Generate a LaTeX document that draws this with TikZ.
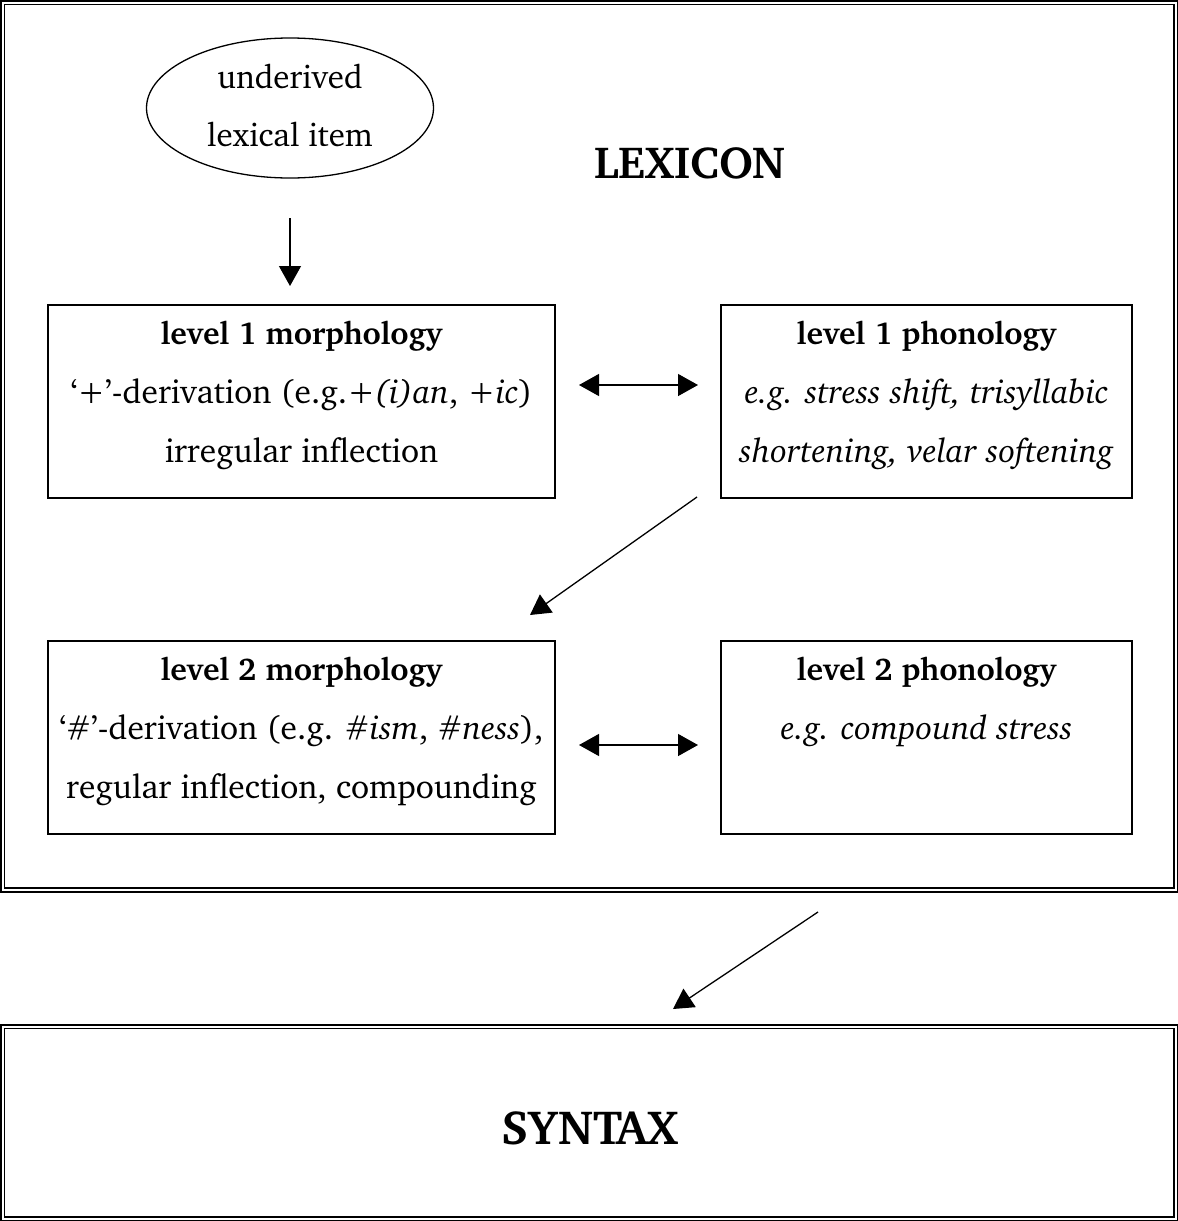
\documentclass[tikz,border=0pt]{standalone}
\usepackage[T1]{fontenc}
\usepackage{charter}
\usetikzlibrary{shapes.geometric,arrows.meta}
\newcommand{\ttl}[1]{{\fontsize{31.5}{59}\selectfont\bfseries #1}}
\begin{document}
\begin{tikzpicture}[x=1pt,y=-1pt,
  txt/.style={font=\fontsize{33.5}{59}\selectfont, align=center, inner sep=0pt},
  box/.style={draw, line width=1.3pt, minimum width=#1, minimum height=193pt, inner sep=0pt},
  arr/.style={line width=1.3pt, -{Triangle[length=20pt,width=22pt]}},
  darr/.style={line width=1.3pt, {Triangle[length=20pt,width=22pt]}-{Triangle[length=20pt,width=22pt]}},
  frame/.style={double, double distance=2pt, line width=1.6pt}]
\useasboundingbox (0,0) rectangle (1178,1221);
% frames
\draw[frame] (2.5,2.5) rectangle (1175.5,890);
\draw[frame] (2.5,1026.5) rectangle (1175.5,1218.5);
% ellipse
\node[draw, ellipse, line width=1.3pt, minimum width=287pt, minimum height=140pt, inner sep=0pt] (item) at (290,108) {};
\node[txt, font=\fontsize{33}{58}\selectfont] (itemt) at (290,106) {underived\\lexical item};
\node[txt, font=\fontsize{45}{50}\selectfont\bfseries] (lex) at (690,163) {LEXICON};
% boxes
\node[box=507pt] (m1) at (301.5,401.5) {};
\node[box=411pt] (p1) at (926.5,401.5) {};
\node[box=507pt] (m2) at (301.5,737.5) {};
\node[box=411pt] (p2) at (926.5,737.5) {};
\node[txt, anchor=north] (m1t) at (301.5,321) {\ttl{level 1 morphology}\\`+'-derivation (e.g.\textit{+(i)an}, \textit{+ic})\\irregular inflection};
\node[txt, anchor=north] (p1t) at (926.5,321) {\ttl{level 1 phonology}\\\textit{e.g. stress shift, trisyllabic}\\\textit{shortening, velar softening}};
\node[txt, anchor=north] (m2t) at (301.5,657) {\ttl{level 2 morphology}\\`\#'-derivation (e.g. \#\textit{ism}, \#\textit{ness}),\\regular inflection, compounding};
\node[txt, anchor=north] (p2t) at (926.5,657) {\ttl{level 2 phonology}\\\textit{e.g. compound stress}};
% syntax
\node[txt, font=\fontsize{48}{50}\selectfont\bfseries] (syn) at (590,1128) {SYNTAX};
% arrows
\coordinate (a1s) at (290,218);
\coordinate (a1e) at (290,286);
\draw[arr] (a1s) -- (a1e);
\coordinate (d1s) at (579,385);
\coordinate (d1e) at (698,385);
\draw[darr] (d1s) -- (d1e);
\coordinate (d2s) at (579,745);
\coordinate (d2e) at (698,745);
\draw[darr] (d2s) -- (d2e);
\coordinate (g1s) at (697,497);
\coordinate (g1e) at (530,615);
\draw[arr] (g1s) -- (g1e);
\coordinate (g2s) at (818,912);
\coordinate (g2e) at (673,1009);
\draw[arr] (g2s) -- (g2e);
\end{tikzpicture}
\end{document}
